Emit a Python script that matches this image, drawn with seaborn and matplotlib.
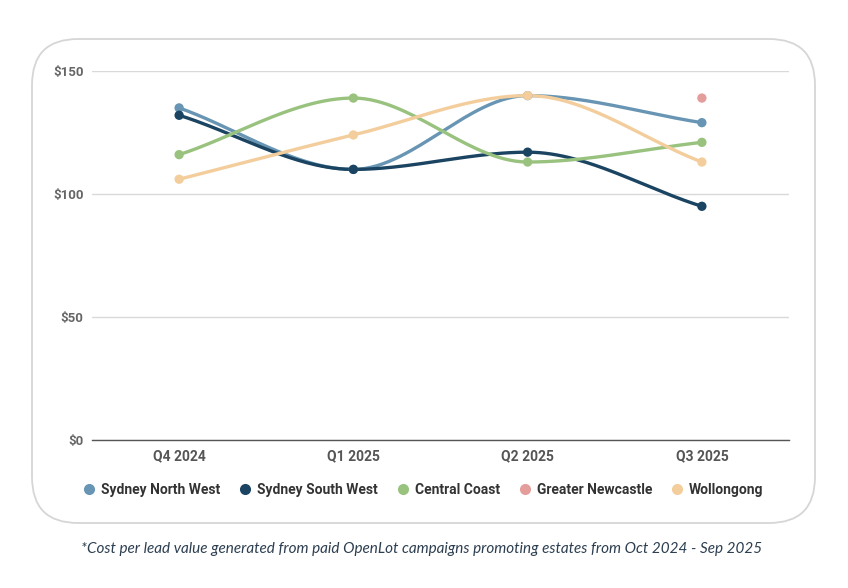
import numpy as np
import pandas as pd
import matplotlib
matplotlib.use("Agg")
import matplotlib.pyplot as plt
from matplotlib.patches import FancyBboxPatch
from matplotlib.lines import Line2D
import seaborn as sns

quarters = ["Q4 2024", "Q1 2025", "Q2 2025", "Q3 2025"]
regions = ["Sydney North West", "Sydney South West", "Central Coast", "Greater Newcastle", "Wollongong"]
sydney_north_west = [135, 110, 140, 129]
sydney_south_west = [132, 110, 117, 95]
central_coast = [116, 139, 113, 121]
greater_newcastle = [None, None, None, 139]
wollongong = [106, 124, 140, 113]
colors = ["#6795b3", "#1a4461", "#98c27e", "#e39d9b", "#f3cd9c"]
yticks = [0, 50, 100, 150]
ytick_labels = ["$0", "$50", "$100", "$150"]
footnote = "*Cost per lead value generated from paid OpenLot campaigns promoting estates from Oct 2024 - Sep 2025"

series = [sydney_north_west, sydney_south_west, central_coast, greater_newcastle, wollongong]


def monotone(xs, ys, n=60):
    xs = np.asarray(xs, float); ys = np.asarray(ys, float)
    k = len(xs)
    if k < 2:
        return xs, ys
    h = np.diff(xs); d = np.diff(ys) / h
    m = np.zeros(k)
    m[0] = d[0]; m[-1] = d[-1]
    for i in range(1, k - 1):
        if d[i - 1] * d[i] <= 0:
            m[i] = 0
        else:
            m[i] = (d[i - 1] + d[i]) / 2
    for i in range(k - 1):
        if d[i] == 0:
            m[i] = m[i + 1] = 0
        else:
            a = m[i] / d[i]; b = m[i + 1] / d[i]
            s = a * a + b * b
            if s > 9:
                t = 3 / np.sqrt(s)
                m[i] = t * a * d[i]; m[i + 1] = t * b * d[i]
    X, Y = [], []
    for i in range(k - 1):
        t = np.linspace(0, 1, n, endpoint=(i == k - 2))
        h00 = 2 * t**3 - 3 * t**2 + 1; h10 = t**3 - 2 * t**2 + t
        h01 = -2 * t**3 + 3 * t**2; h11 = t**3 - t**2
        X.append(xs[i] + t * h[i])
        Y.append(h00 * ys[i] + h10 * h[i] * m[i] + h01 * ys[i + 1] + h11 * h[i] * m[i + 1])
    return np.concatenate(X), np.concatenate(Y)


sns.set_theme(style="white")
plt.rcParams["font.family"] = ["Roboto", "DejaVu Sans"]

fig = plt.figure(figsize=(8.48, 5.88), dpi=100)
fig.patch.set_facecolor("white")

box = FancyBboxPatch((0.32, 0.65), 8.15 - 0.32, 5.49 - 0.65,
                     boxstyle="round,pad=0,rounding_size=0.46",
                     transform=fig.dpi_scale_trans, facecolor="white",
                     edgecolor="#d6d6d6", linewidth=1.3, zorder=-5)
fig.patches.append(box)

ax = fig.add_axes([92 / 848, 1 - 440 / 588, (789 - 92) / 848, (440 - 71) / 588])
ax.set_facecolor("none")
ax.set_zorder(2)

xpos = np.arange(len(quarters))
for name, vals, col in zip(regions, series, colors):
    pts = [(x, v) for x, v in zip(xpos, vals) if v is not None]
    px = [p[0] for p in pts]; py = [p[1] for p in pts]
    if len(pts) > 1:
        sx, sy = monotone(px, py)
        df = pd.DataFrame({"x": sx, "y": sy})
        sns.lineplot(data=df, x="x", y="y", ax=ax, color=col, linewidth=2.4,
                     estimator=None, sort=False, zorder=3)
    dfp = pd.DataFrame({"x": px, "y": py})
    sns.scatterplot(data=dfp, x="x", y="y", ax=ax, color=col, s=45,
                    edgecolor="none", zorder=4)

ax.set_xlim(-0.5, 3.5)
ax.set_ylim(0, 150)
ax.set_yticks(yticks)
ax.set_yticklabels(ytick_labels)
ax.set_xticks(xpos)
ax.set_xticklabels(quarters)
ax.set_xlabel(""); ax.set_ylabel("")
ax.grid(axis="y", color="#d9d9d9", linewidth=1)
ax.grid(axis="x", visible=False)
for s in ["top", "right", "left"]:
    ax.spines[s].set_visible(False)
ax.spines["bottom"].set_color("#555555")
ax.spines["bottom"].set_linewidth(1)
ax.tick_params(axis="y", length=0, pad=6, labelsize=9.5, labelcolor="#666666")
ax.tick_params(axis="x", length=0, pad=7, labelsize=10, labelcolor="#555555")
for lab in ax.get_yticklabels() + ax.get_xticklabels():
    lab.set_fontweight("bold")

handles = [Line2D([0], [0], marker="o", linestyle="none", markersize=8,
                  markerfacecolor=c, markeredgecolor="none") for c in colors]
leg = fig.legend(handles, regions, loc="center", bbox_to_anchor=(0.5, 1 - 490 / 588),
                 ncol=5, frameon=False, handlelength=0.7, handletextpad=0.5,
                 columnspacing=1.45,
                 prop={"family": "Roboto", "weight": "bold", "size": 10})
for t in leg.get_texts():
    t.set_color("#333333")

fig.text(0.497, 1 - 549 / 588, footnote, ha="center", va="center",
         fontsize=11, style="italic", color="#2c3e50", family=["Lato", "DejaVu Sans"])

fig.savefig("out.png", dpi=100)
